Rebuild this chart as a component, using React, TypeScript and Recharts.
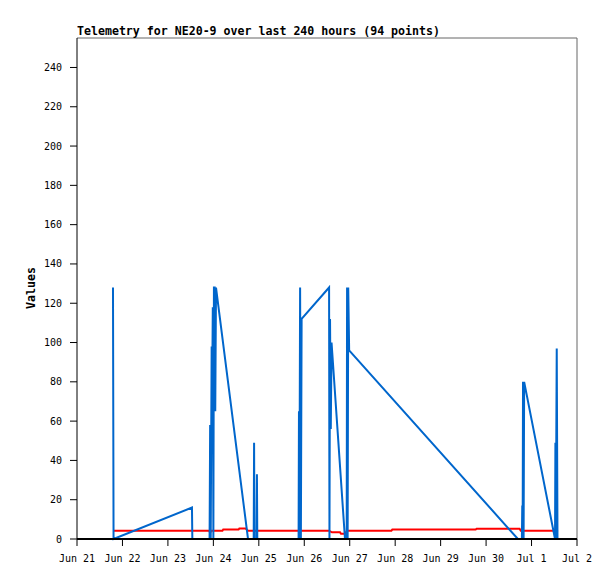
import { LineChart, Line, XAxis, YAxis, ReferenceLine } from "recharts";

// hours since Jun 21 00:00
const DAY_LABELS = [
  "Jun 21", "Jun 22", "Jun 23", "Jun 24", "Jun 25", "Jun 26",
  "Jun 27", "Jun 28", "Jun 29", "Jun 30", "Jul 1", "Jul 2",
];
const DAY_TICKS = DAY_LABELS.map((_, i) => i * 24);
const VALUE_TICKS = [0, 20, 40, 60, 80, 100, 120, 140, 160, 180, 200, 220, 240];

const BLUE_HOURS = [
  19.0, 19.3, 60.7, 60.9, 70.0, 70.3, 70.6, 71.1, 71.4, 71.7, 72.0, 72.3,
  72.7, 73.0, 73.4, 90.3, 93.3, 93.5, 93.7, 94.8, 95.0, 95.2, 117.0, 117.2,
  117.4, 117.8, 118.2, 118.6, 133.1, 133.3, 133.6, 134.0, 134.4, 141.5, 142.4,
  142.6, 142.9, 143.2, 143.7, 232.8, 234.9, 235.1, 235.3, 235.5, 235.8, 236.1,
  252.4, 252.6, 252.8, 253.3, 253.7,
];
const BLUE_VALUES = [
  128, 0, 16, 0, 0, 58, 0, 98, 78, 118, 0, 128,
  128, 65, 128, 0, 0, 49, 0, 0, 33, 0, 0, 65,
  0, 128, 0, 112, 128, 0, 112, 56, 100, 0, 0,
  128, 0, 128, 96, 0, 0, 17, 0, 80, 0, 80,
  0, 49, 0, 97, 0,
];

const RED_HOURS = [
  19.0, 69.8, 70.3, 70.8, 76.8, 77.2, 85.3, 85.7, 89.0, 90.3, 133.1, 134.6,
  138.9, 139.4, 141.5, 142.6, 166.0, 166.5, 210.5, 211.0, 233.7, 234.3, 254.0,
];
const RED_VALUES = [
  4.2, 4.2, 3.2, 4.2, 4.2, 4.8, 4.8, 5.3, 5.3, 4.2, 4.2, 3.4,
  3.4, 2.7, 2.7, 4.2, 4.2, 4.8, 4.8, 5.2, 5.2, 4.2, 4.2,
];

const blueData = BLUE_HOURS.map((t, i) => ({ t, v: BLUE_VALUES[i] }));
const redData = RED_HOURS.map((t, i) => ({ t, v: RED_VALUES[i] }));

const MONO = "'DejaVu Sans Mono', monospace";

export default function App() {
  return (
    <div style={{ position: "absolute", left: 0, top: 0, width: 615, height: 579, background: "#fff" }}>
      <LineChart width={615} height={579} margin={{ top: 38, right: 38, bottom: 0, left: 0 }}>
        <XAxis
          dataKey="t"
          type="number"
          domain={[0, 264]}
          ticks={DAY_TICKS}
          interval={0}
          tickFormatter={(h: number) => DAY_LABELS[Math.round(h / 24)]}
          height={40}
          tickSize={7}
          tickMargin={9}
          tick={{ fill: "#000", fontSize: 10, fontFamily: MONO }}
          tickLine={{ stroke: "#000" }}
          axisLine={{ stroke: "#000", strokeWidth: 2 }}
        />
        <YAxis
          type="number"
          domain={[0, 255]}
          ticks={VALUE_TICKS}
          interval={0}
          width={77}
          tickSize={7}
          tickMargin={8}
          tick={{ fill: "#000", fontSize: 10, fontFamily: MONO }}
          tickLine={{ stroke: "#000" }}
          axisLine={{ stroke: "#000" }}
        />
        <ReferenceLine y={255} stroke="#666" />
        <ReferenceLine x={264} stroke="#666" />
        <Line
          data={redData}
          dataKey="v"
          type="linear"
          stroke="#ff0000"
          strokeWidth={2}
          dot={false}
          isAnimationActive={false}
        />
        <Line
          data={blueData}
          dataKey="v"
          type="linear"
          stroke="#0066cc"
          strokeWidth={2}
          dot={false}
          isAnimationActive={false}
        />
        <ReferenceLine y={0} stroke="#000" strokeWidth={2} />
      </LineChart>
      <svg width={615} height={579} style={{ position: "absolute", left: 0, top: 0, pointerEvents: "none" }}>
        <text x={77} y={35} fontFamily={MONO} fontSize={11.6} fontWeight="bold" fill="#000">
          Telemetry for NE20-9 over last 240 hours (94 points)
        </text>
        <text
          x={35}
          y={288}
          transform="rotate(-90 35 288)"
          textAnchor="middle"
          fontFamily={MONO}
          fontSize={11.6}
          fontWeight="bold"
          fill="#000"
        >
          Values
        </text>
      </svg>
    </div>
  );
}
